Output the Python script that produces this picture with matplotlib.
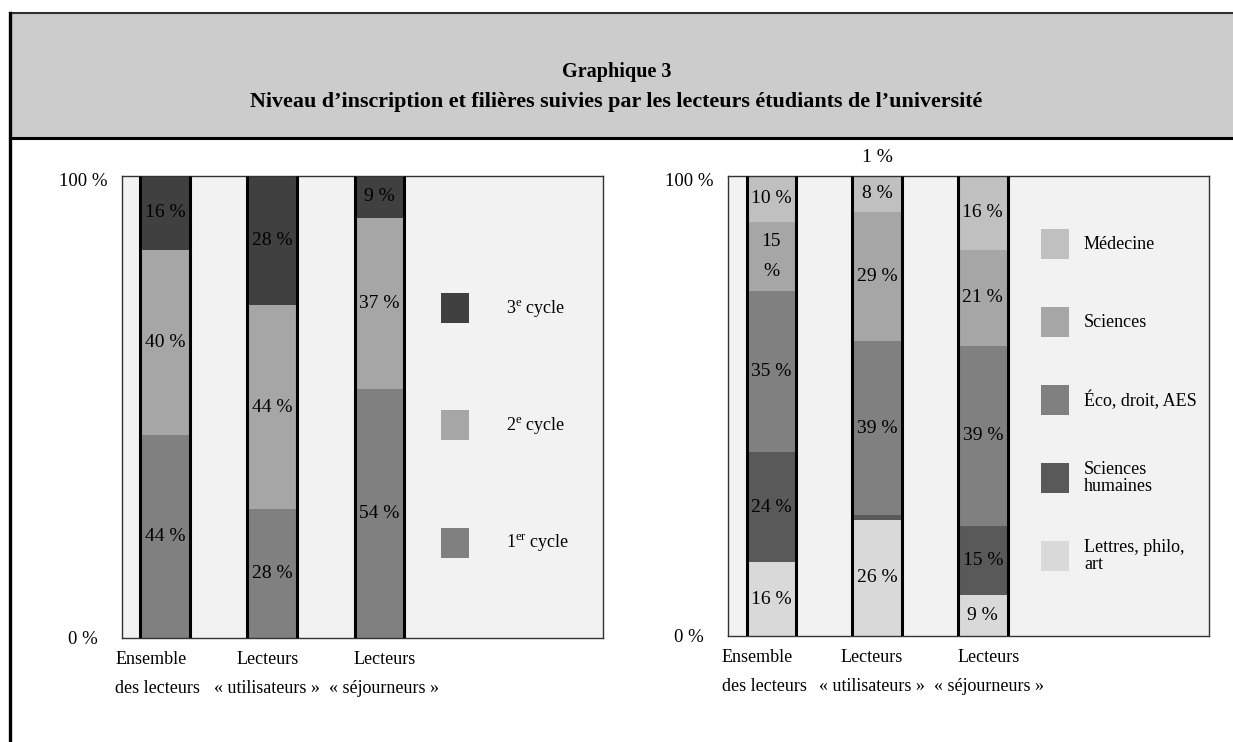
import matplotlib
matplotlib.use("Agg")
import matplotlib.pyplot as plt
from matplotlib.patches import Rectangle
from matplotlib.lines import Line2D
from matplotlib.transforms import ScaledTranslation
import numpy as np

plt.rcParams["font.family"] = ["Liberation Serif", "DejaVu Serif"]
plt.rcParams["mathtext.fontset"] = "custom"
plt.rcParams["mathtext.rm"] = "Liberation Serif"
plt.rcParams["mathtext.it"] = "Liberation Serif:italic"
plt.rcParams["mathtext.bf"] = "Liberation Serif:bold"

# ---------------------------------------------------------------- data
TITLE = "Graphique 3"
SUBTITLE = "Niveau d’inscription et filières suivies par les lecteurs étudiants de l’université"

categories = ["Ensemble\ndes lecteurs", "Lecteurs\n« utilisateurs »", "Lecteurs\n« séjourneurs »"]

# Niveau d'inscription, stacked from bottom to top
cycle_names = ["1$^{\\mathrm{er}}$ cycle", "2$^{\\mathrm{e}}$ cycle", "3$^{\\mathrm{e}}$ cycle"]
cycle_1 = [44, 28, 54]
cycle_2 = [40, 44, 37]
cycle_3 = [16, 28, 9]

# Filières suivies, stacked from bottom to top
filiere_names = ["Lettres, philo,\nart", "Sciences\nhumaines", "Éco, droit, AES", "Sciences", "Médecine"]
lettres = [16, 26, 9]
sciences_humaines = [24, 1, 15]
eco_droit_aes = [35, 39, 39]
sciences = [15, 29, 21]
medecine = [10, 8, 16]

y_ticks = [0, 100]
y_tick_labels = ["0 %", "100 %"]

# ---------------------------------------------------------------- style
cycle_colors = ["#808080", "#a6a6a6", "#404040"]
filiere_colors = ["#d9d9d9", "#595959", "#808080", "#a6a6a6", "#c0c0c0"]
PLOT_BG = "#f2f2f2"
HEADER_BG = "#cccccc"

W, H = 1233, 742
fig = plt.figure(figsize=(W / 100, H / 100), dpi=100)
fig.patch.set_facecolor("white")


def fx(px):
    return px / W


def fy(py):
    return 1 - py / H


def shift(dx_px, dy_px):
    return ScaledTranslation(dx_px / 100, dy_px / 100, fig.dpi_scale_trans)


# header band and page frame
fig.add_artist(Rectangle((fx(10), fy(138)), fx(W) - fx(10) + 0.01, fy(13) - fy(138),
                         transform=fig.transFigure, facecolor=HEADER_BG, edgecolor="none", zorder=0))
fig.add_artist(Line2D([fx(10), 1.0], [fy(13), fy(13)], transform=fig.transFigure,
                      color="#303030", lw=1.5))
fig.add_artist(Line2D([fx(10), 1.0], [fy(138), fy(138)], transform=fig.transFigure,
                      color="black", lw=2.2))
fig.add_artist(Line2D([fx(10), fx(10)], [fy(13), 0.0], transform=fig.transFigure,
                      color="black", lw=2.4))
fig.text(0.5, fy(72), TITLE, ha="center", va="center", fontsize=14.5, fontweight="bold")
fig.text(0.5, fy(102), SUBTITLE, ha="center", va="center", fontsize=15.8, fontweight="bold")


def stacked_panel(rect, names, series, colors, xlim, width, legend_x, text_x, legend_rows,
                  label_shift, wrapped=()):
    ax = fig.add_axes(rect)
    ax.set_facecolor(PLOT_BG)
    x = np.arange(len(categories))
    totals = np.sum(np.array(series, dtype=float), axis=0)
    bottom = np.zeros(len(x))
    containers = []
    for k, (name, vals, col) in enumerate(zip(names, series, colors)):
        heights = np.array(vals, dtype=float) / totals * 100
        bars = ax.bar(x, heights, width, bottom=bottom, color=col, linewidth=0, zorder=2)
        containers.append(bars)
        for i, (r, v) in enumerate(zip(bars, vals)):
            cx = r.get_x() + r.get_width() / 2
            if r.get_height() < 3:
                # too thin to hold its value: write it above the plot area
                ax.annotate(f"{v} %", xy=(cx, 100), xytext=(0, 7), textcoords="offset points",
                            ha="center", va="bottom", fontsize=14, annotation_clip=False)
                continue
            cy = r.get_y() + r.get_height() / 2
            if (k, i) in wrapped:
                ax.text(cx, cy, f"{v}\n%", ha="center", va="center", fontsize=14,
                        linespacing=2.0, zorder=4)
            else:
                ax.text(cx, cy, f"{v} %", ha="center", va="center", fontsize=14, zorder=4)
        bottom += heights
    # heavy black sides of each column
    for r in containers[0]:
        ax.vlines([r.get_x(), r.get_x() + r.get_width()], 0, 100, color="black",
                  lw=2.2, zorder=3)

    ax.set_xlim(*xlim)
    ax.set_ylim(0, 100)
    ax.set_xticks(x, categories)
    ax.set_yticks(y_ticks, y_tick_labels)
    ax.tick_params(axis="x", length=0, pad=9, labelsize=13)
    ax.tick_params(axis="y", length=0, pad=28, labelsize=13.5)
    for t, dx in zip(ax.get_xticklabels(), label_shift):
        t.set_linespacing(1.95)
        t.set_transform(t.get_transform() + shift(dx, 0))
    ax.get_xticklabels()[0].set_multialignment("left")
    for t in ax.get_yticklabels():
        t.set_ha("center")
    ax.get_yticklabels()[-1].set_transform(ax.get_yticklabels()[-1].get_transform() + shift(0, -4))
    for s in ax.spines.values():
        s.set_color("#333333")
        s.set_linewidth(1.0)

    # legend: one square per series, top entry first
    sq_w, sq_h = 28 / (rect[2] * W), 30 / (rect[3] * H)
    rows = np.linspace(legend_rows[0], legend_rows[1], len(names))
    for yc, name, col in zip(rows, names[::-1], colors[::-1]):
        ax.add_patch(Rectangle((legend_x, yc - sq_h / 2), sq_w, sq_h, transform=ax.transAxes,
                               facecolor=col, edgecolor="none", zorder=2))
        ax.text(text_x, yc, name, transform=ax.transAxes, ha="left", va="center",
                fontsize=13, linespacing=0.95)
    return ax


stacked_panel([fx(122), fy(638), (603 - 122) / W, (638 - 176) / H],
              cycle_names, [cycle_1, cycle_2, cycle_3], cycle_colors,
              xlim=(-0.4, 4.085), width=0.46,
              legend_x=0.663, text_x=0.798, legend_rows=(0.714, 0.206),
              label_shift=(-7, -5, 5))

stacked_panel([fx(728), fy(636), (1209 - 728) / W, (636 - 176) / H],
              filiere_names, [lettres, sciences_humaines, eco_droit_aes, sciences, medecine],
              filiere_colors,
              xlim=(-0.41, 4.14), width=0.47,
              legend_x=0.651, text_x=0.740, legend_rows=(0.852, 0.174),
              label_shift=(-7, -5, 6), wrapped={(3, 0)})

fig.savefig("out.png", dpi=100)
